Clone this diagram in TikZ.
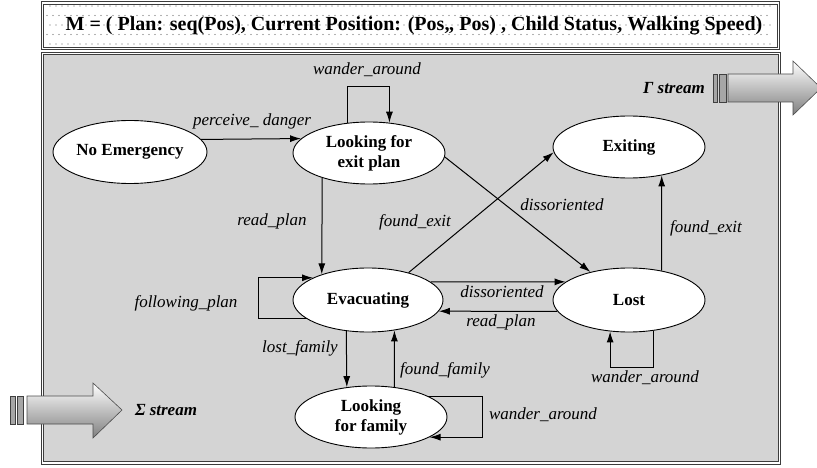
\documentclass[tikz,border=0pt]{standalone}
\usepackage{fontspec}
\setmainfont{Liberation Serif}
\usetikzlibrary{arrows.meta,shapes.geometric}
\definecolor{panelgray}{RGB}{212,212,212}
\definecolor{framegray}{RGB}{60,60,60}
\tikzset{
  state/.style={ellipse, draw=black, fill=white, line width=0.9pt, inner sep=0pt,
    font=\fontsize{17}{20}\selectfont\bfseries, align=center},
  lbl/.style={font=\fontsize{17}{20}\selectfont\itshape, inner sep=0pt},
  streamlbl/.style={font=\fontsize{17}{20}\selectfont\bfseries\itshape, inner sep=0pt},
  arr/.style={-{Latex[length=11pt,width=7pt]}, line width=1pt},
  frame/.style={draw=framegray, double=white, line width=0.9pt, double distance=1.5pt},
  streamarrow/.style={top color=white, bottom color=black!50, draw=black!70, line width=0.6pt},
  bar/.style={fill=black!35, draw=black!75, line width=0.5pt}
}
\begin{document}
\begin{tikzpicture}[x=1pt,y=-1pt]
\useasboundingbox (0,0) rectangle (817,468);
% main panel
\fill[panelgray] (42.7,53.5) rectangle (779.5,463);
\draw[frame] (42.7,53.5) rectangle (779.5,463);
% title box
\fill[white] (42.7,2.9) rectangle (778.4,48.6);
\foreach \r [count=\i] in {6,15.5,25,34.5,44} {
  \pgfmathsetmacro\off{mod(\i,2)*3}
  \foreach \c in {0,...,120} \fill[black!60] ({47+\off+6*\c},\r) circle (0.6);
}
\draw[frame] (42.7,2.9) rectangle (778.4,48.6);
\node[font=\fontsize{20}{22}\selectfont\bfseries, inner sep=0pt] (title) at (414,26)
  {M = ( Plan: seq(Pos), Current Position: (Pos,, Pos) , Child Status, Walking Speed)};
% stream arrows
\shade[streamarrow] (27,396) -- (93,396) -- (93,383) -- (122,410) -- (93,438) -- (93,424) -- (27,424) -- cycle;
\filldraw[bar] (10,396) rectangle (15,424);
\filldraw[bar] (17,396) rectangle (23,424);
\node[streamlbl] (sigma) at (166,410) {Σ stream};
\shade[streamarrow] (728,74) -- (793,74) -- (793,61) -- (821,88) -- (793,115) -- (793,102) -- (728,102) -- cycle;
\filldraw[bar] (713,74) rectangle (717,102);
\filldraw[bar] (719,74) rectangle (726,102);
\node[streamlbl] (gamma) at (674,88) {Γ stream};
% states
\node[state, minimum width=154pt, minimum height=63pt] (ne) at (130,152) {No Emergency};
\node[state, minimum width=152pt, minimum height=62pt] (lfep) at (369,153) {Looking for\\exit plan};
\node[state, minimum width=152pt, minimum height=62pt] (exit) at (629,147) {Exiting};
\node[state, minimum width=150pt, minimum height=64pt] (evac) at (368,300) {Evacuating};
\node[state, minimum width=152pt, minimum height=64pt] (lost) at (629,300) {Lost};
\node[state, minimum width=152pt, minimum height=62pt] (lff) at (371,417) {Looking\\for family};
% transitions
\draw[arr] (ne.10.5) -- (lfep.168.3);
\node[lbl] (l1) at (252,121) {perceive\_ danger};
\draw[arr] (lfep.126.5) -- (lfep.126.5 |- 0,87) -| (lfep.56.2);
\node[lbl] (l2) at (367,70) {wander\_around};
\draw[arr] (lfep.-152.6) -- (evac.151.2);
\node[lbl] (l3) at (272,221) {read\_plan};
\draw[arr] (evac.34.7) -- (exit.184);
\node[lbl] (l4) at (415,222) {found\_exit};
\draw[arr] (lfep.-3) -- (lost.144);
\node[lbl] (l5) at (562,205) {dissoriented};
\draw[arr] (lost.42.2) -- (exit.-41.3);
\node[lbl] (l6) at (706,228) {found\_exit};
\draw[arr] (evac.16.2) -- (lost.164);
\node[lbl] (l7) at (502,292) {dissoriented};
\draw[arr] (lost.189.7) -- (evac.-9.8);
\node[lbl] (l8) at (501,322) {read\_plan};
\draw[arr] (lost.-51.7) -- (lost.-51.7 |- 0,367) -| (lost.239.9);
\node[lbl] (l9) at (645,378) {wander\_around};
\draw[arr] (evac.197.5) -- (evac.197.5 -| 258,0) |- (evac.158);
\node[lbl] (l10) at (186,303) {following\_plan};
\draw[arr] (evac.235.6) -- (lff.129.2);
\node[lbl] (l11) at (300,348) {lost\_family};
\draw[arr] (lff.52.1) -- (evac.-49.1);
\node[lbl] (l12) at (445,370) {found\_family};
\draw[arr] (lff.20.6) -- (lff.20.6 -| 482,0) |- (lff.-19);
\node[lbl] (l13) at (543,415) {wander\_around};
\end{tikzpicture}
\end{document}
